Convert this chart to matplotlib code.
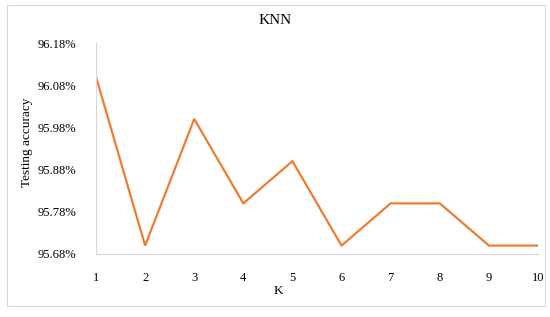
import matplotlib
matplotlib.use("Agg")
import matplotlib.pyplot as plt
from matplotlib.patches import Rectangle
from matplotlib.ticker import FuncFormatter, FixedLocator

k_values = [1, 2, 3, 4, 5, 6, 7, 8, 9, 10]
accuracy = [96.10, 95.70, 96.00, 95.80, 95.90, 95.70, 95.80, 95.80, 95.70, 95.70]
y_ticks = [95.68, 95.78, 95.88, 95.98, 96.08, 96.18]

plt.rcParams['font.family'] = ['Liberation Serif', 'DejaVu Serif']

fig = plt.figure(figsize=(5.5, 3.17), dpi=100)
ax = fig.add_axes([96/550, 1-254/317, (538-96)/550, (254-43)/317])

ax.plot(k_values, accuracy, color='#ED7D31', linewidth=1.6, solid_joinstyle='miter')

ax.set_xlim(k_values[0], k_values[-1])
ax.set_ylim(y_ticks[0], y_ticks[-1])
ax.yaxis.set_major_locator(FixedLocator(y_ticks))
ax.yaxis.set_major_formatter(FuncFormatter(lambda v, p: f"{v:.2f}%"))
ax.set_xticks(k_values)
ax.set_xticklabels([str(k) for k in k_values])

for s in ['top', 'right']:
    ax.spines[s].set_visible(False)
for s in ['left', 'bottom']:
    ax.spines[s].set_color('#D9D9D9')
    ax.spines[s].set_linewidth(0.8)
ax.tick_params(axis='both', length=0, labelsize=9, colors='#000000')
ax.tick_params(axis='x', pad=13)
ax.tick_params(axis='y', pad=14)

fig.text(0.5, 1-20/317, 'KNN', ha='center', va='center', fontsize=11)
fig.text(278/550, 1-291/317, 'K', ha='center', va='center', fontsize=9.5)
fig.text(27/550, 1-142/317, 'Testing accuracy', ha='center', va='center', rotation=90, fontsize=9.5)

fig.patches.append(Rectangle((7/550, 1-306/317), (545-7)/550, (306-5)/317,
                             transform=fig.transFigure, fill=False,
                             edgecolor='#D9D9D9', linewidth=0.8))

fig.savefig('out.png', dpi=100)
